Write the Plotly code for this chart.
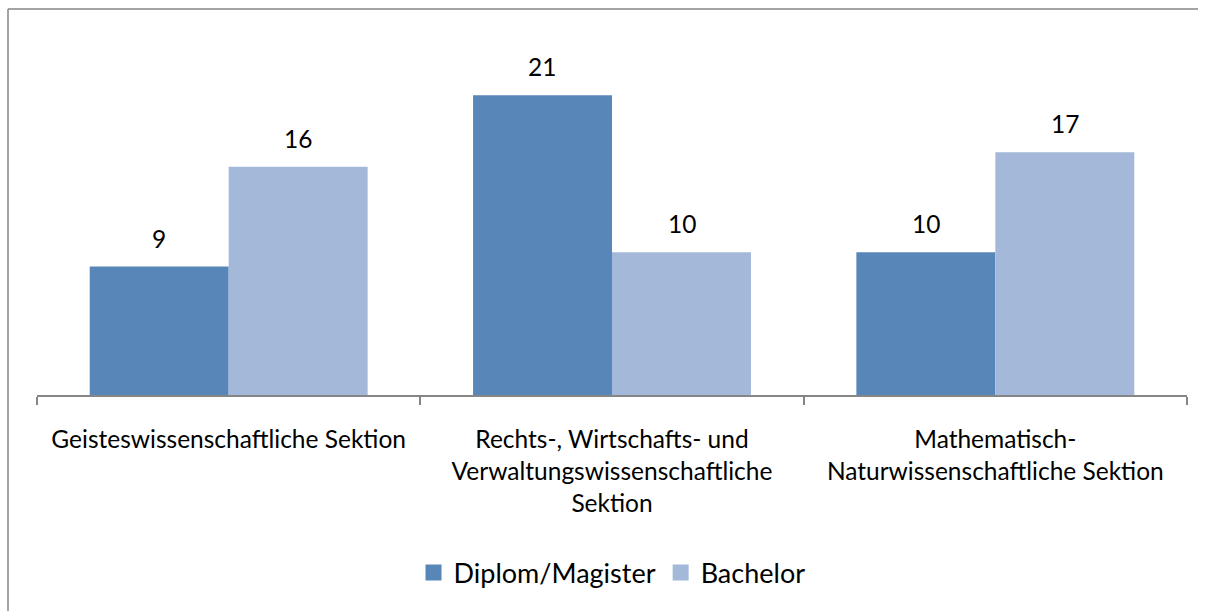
import plotly.graph_objects as go

categories = [
    "Geisteswissenschaftliche Sektion",
    "Rechts-, Wirtschafts- und<br>Verwaltungswissenschaftliche<br>Sektion",
    "Mathematisch-<br>Naturwissenschaftliche Sektion",
]
diplom = [9, 21, 10]
bachelor = [16, 10, 17]
series_names = ["Diplom/Magister", "Bachelor"]
colors = ["#5886B8", "#A4B8DA"]

FONT = "Lato, Carlito, Calibri, sans-serif"
FS = 24.5

W, H = 1214, 611
ML, MR, MT, MB = 37, 27, 81, 216
PW, PH = W - ML - MR, H - MT - MB

fig = go.Figure()
fig.add_trace(go.Bar(x=categories, y=diplom, name=series_names[0],
                     marker=dict(color=colors[0], line=dict(width=0)),
                     showlegend=False))
fig.add_trace(go.Bar(x=categories, y=bachelor, name=series_names[1],
                     marker=dict(color=colors[1], line=dict(width=0)),
                     showlegend=False))

# legend entries with larger square swatches
for name, col in zip(series_names, colors):
    fig.add_trace(go.Scatter(x=[None], y=[None], mode="markers", name=name,
                             marker=dict(symbol="square", size=17, color=col,
                                         line=dict(width=0)),
                             showlegend=True, hoverinfo="skip"))

# value labels
bar_px = 139.5
for vals, shift in ((diplom, -bar_px / 2), (bachelor, bar_px / 2)):
    for c, v in zip(categories, vals):
        fig.add_annotation(x=c, y=v, text=str(v), showarrow=False,
                           xshift=shift, yshift=12, yanchor="bottom",
                           font=dict(family=FONT, size=FS, color="#000000"))

# outer border: only top and left edges are visible in the window
bx = (8 - ML) / PW
bx_end = (1198 - ML) / PW
by = (H - MB - 9) / PH
by_end = -(MB + 20) / PH
fig.add_shape(type="line", xref="paper", yref="paper",
              x0=bx, x1=bx_end, y0=by, y1=by,
              line=dict(color="#868686", width=1.5))
fig.add_shape(type="line", xref="paper", yref="paper",
              x0=bx, x1=bx, y0=by, y1=by_end,
              line=dict(color="#868686", width=1.5))

fig.update_layout(
    width=W, height=H,
    margin=dict(l=ML, r=MR, t=MT, b=MB),
    paper_bgcolor="white", plot_bgcolor="white",
    barmode="group", bargap=0.275, bargroupgap=0,
    font=dict(family=FONT, size=FS, color="#000000"),
    showlegend=True,
    legend=dict(orientation="h", x=0.5, xanchor="center", y=-0.567,
                yanchor="middle", font=dict(family=FONT, size=27, color="#000000"),
                bgcolor="rgba(0,0,0,0)", itemsizing="trace"),
    xaxis=dict(showline=True, linecolor="#868686", linewidth=1.5,
               ticks="outside", tickson="boundaries", ticklen=8,
               tickcolor="#868686", tickwidth=1.5, showgrid=False,
               ticklabelstandoff=22,
               tickfont=dict(family=FONT, size=FS, color="#000000")),
    yaxis=dict(range=[0, 22], visible=False, showgrid=False, zeroline=False,
               fixedrange=True),
)

fig.write_html(
    "out.html",
    config={"displayModeBar": False},
    post_script=(
        "document.documentElement.style.overflow='hidden';"
        "document.body.style.margin='0';"
        "document.body.style.overflow='hidden';"
    ),
)
